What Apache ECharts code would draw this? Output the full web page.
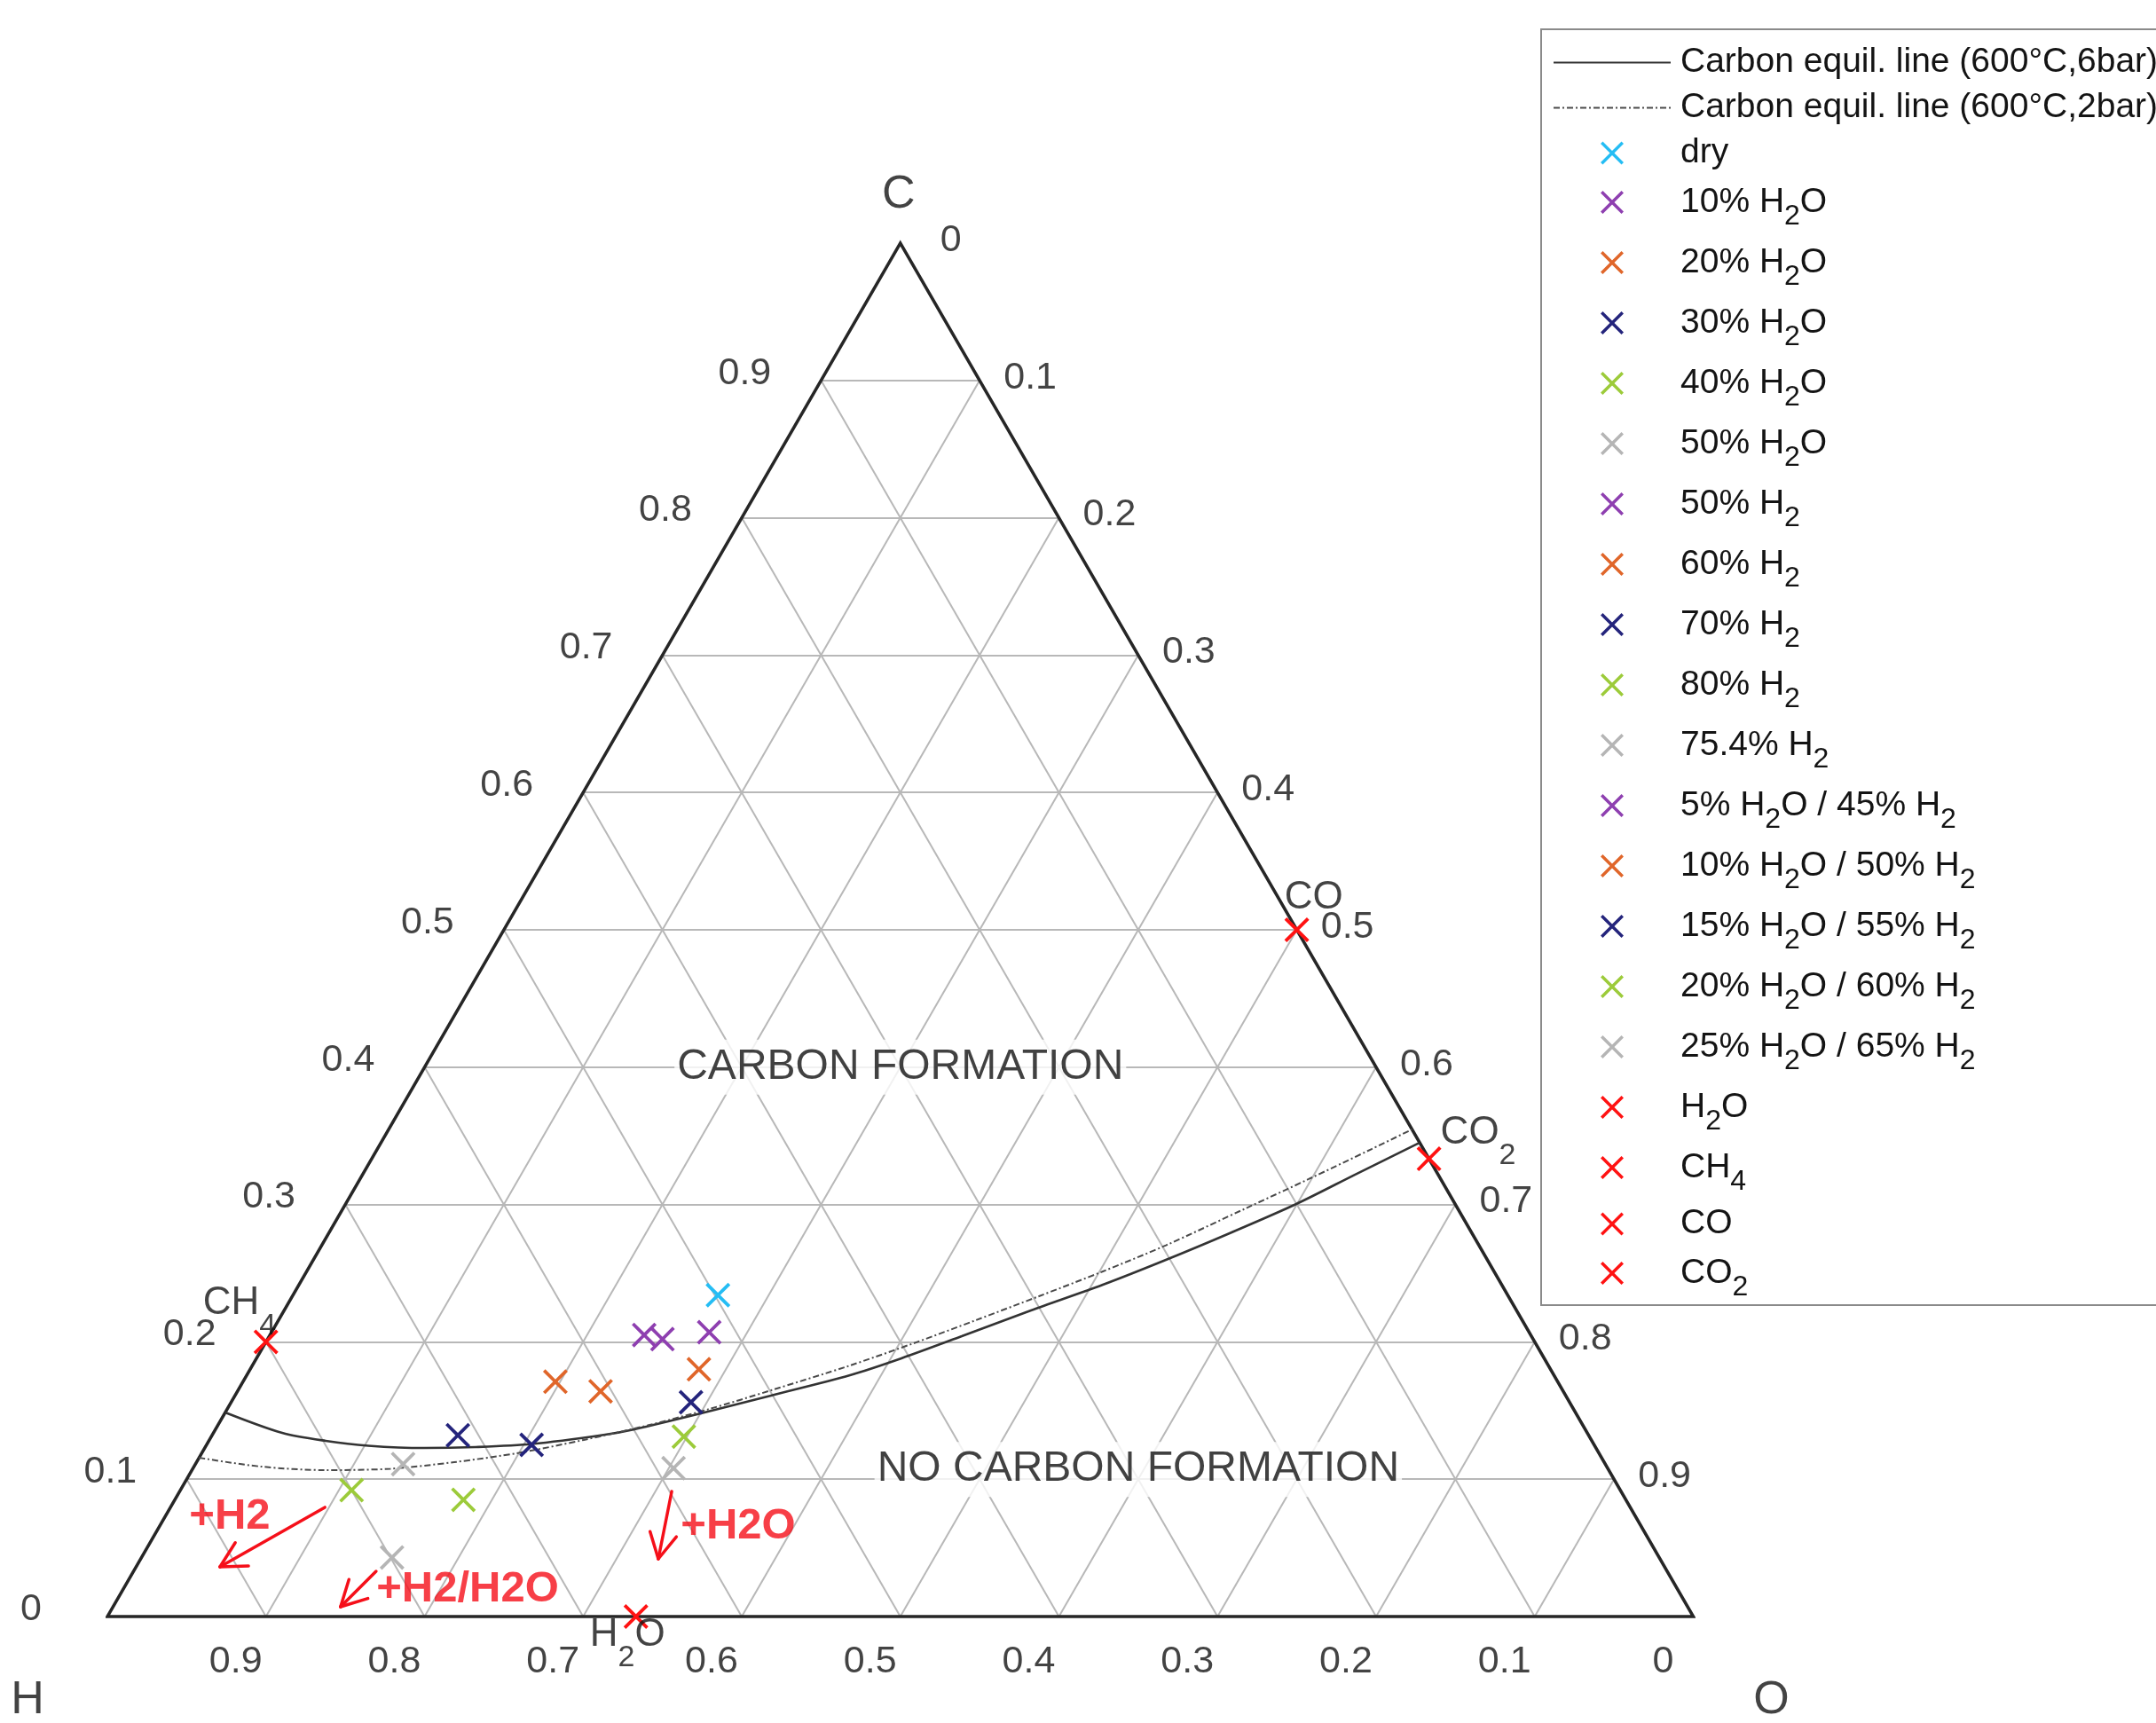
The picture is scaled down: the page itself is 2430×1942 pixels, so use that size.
<!DOCTYPE html>
<html>
<head>
<meta charset="utf-8">
<script src="https://cdn.jsdelivr.net/npm/echarts@6/dist/echarts.min.js"></script>
<style>
html,body{margin:0;padding:0;background:#ffffff;}
#chart{width:2430px;height:1942px;}
</style>
</head>
<body>
<div id="chart"></div>
<script>
// ---------------- DATA (ternary mole fractions: C, O; H = 1 - C - O) ----------------
const tickValues = [0, 0.1, 0.2, 0.3, 0.4, 0.5, 0.6, 0.7, 0.8, 0.9];
const tickLabels = ['0', '0.1', '0.2', '0.3', '0.4', '0.5', '0.6', '0.7', '0.8', '0.9'];
const gridValues = [0.1, 0.2, 0.3, 0.4, 0.5, 0.6, 0.7, 0.8, 0.9];
const cornerNames = ['C', 'H', 'O'];

const seriesNames = ['dry', '10% H2O', '20% H2O', '30% H2O', '40% H2O', '50% H2O',
  '50% H2', '60% H2', '70% H2', '80% H2', '75.4% H2',
  '5% H2O / 45% H2', '10% H2O / 50% H2', '15% H2O / 55% H2', '20% H2O / 60% H2', '25% H2O / 65% H2',
  'H2O', 'CH4', 'CO', 'CO2'];
const seriesC = [0.234, 0.207, 0.180, 0.156, 0.131, 0.108,
  0.205, 0.171, 0.132, 0.092, 0.111,
  0.202, 0.164, 0.125, 0.085, 0.043,
  0, 0.2, 0.5, 0.3333];
const seriesO = [0.268, 0.276, 0.283, 0.290, 0.298, 0.303,
  0.236, 0.197, 0.155, 0.108, 0.131,
  0.249, 0.229, 0.205, 0.182, 0.158,
  0.3333, 0, 0.5, 0.6667];

const equil6barName = 'Carbon equil. line (600°C,6bar)';
const equil6barC = [0.1486, 0.1337, 0.1279, 0.1244, 0.1227, 0.1234, 0.1256, 0.1324, 0.1363, 0.1479,
  0.1609, 0.1757, 0.1880, 0.2041, 0.2229, 0.2416, 0.2597, 0.2791, 0.3004, 0.3223, 0.3450];
const equil6barO = [0, 0.0434, 0.0737, 0.1023, 0.1384, 0.1705, 0.2052, 0.2477, 0.2642, 0.3003,
  0.3380, 0.3804, 0.4067, 0.4367, 0.4709, 0.5069, 0.5376, 0.5681, 0.5995, 0.6265, 0.6550];

const equil2barName = 'Carbon equil. line (600°C,2bar)';
const equil2barC = [0.1156, 0.1092, 0.1066, 0.1076, 0.1124, 0.1192, 0.1286, 0.1392, 0.1512, 0.1647,
  0.1828, 0.1990, 0.2158, 0.2332, 0.2513, 0.2703, 0.2972, 0.3185, 0.3404, 0.3547];
const equil2barO = [0, 0.0422, 0.0843, 0.1247, 0.1625, 0.2000, 0.2361, 0.2711, 0.3043, 0.3361,
  0.3769, 0.4090, 0.4398, 0.4708, 0.5021, 0.5323, 0.5692, 0.5982, 0.6270, 0.6453];

const regionTexts = ['CARBON FORMATION', 'NO CARBON FORMATION'];
const regionC = [0.4, 0.1];
const regionO = [0.3, 0.6];

const annotationTexts = ['+H2', '+H2/H2O', '+H2O'];
const annotationC = [0.0724, 0.0194, 0.0659];
const annotationO = [0.0410, 0.2174, 0.3648];
const arrowFromC = [0.0795, 0.0329, 0.0911];
const arrowFromO = [0.0974, 0.1530, 0.3103];
const arrowToC = [0.0362, 0.0071, 0.0420];
const arrowToO = [0.0529, 0.1435, 0.3264];

// ---------------- STYLE ----------------
const FONT = '"Liberation Sans", Arial, Helvetica, sans-serif';
const TXT = '#141414';
const seriesColors = ['#25bdf4', '#8e3fb0', '#e0662a', '#24247c', '#9ccb3a', '#b5b5b5',
  '#8e3fb0', '#e0662a', '#24247c', '#9ccb3a', '#b5b5b5',
  '#8e3fb0', '#e0662a', '#24247c', '#9ccb3a', '#b5b5b5',
  '#ff1212', '#ff1212', '#ff1212', '#ff1212'];
const XPATH = 'path://M0,0.95L0.95,0L5,4.05L9.05,0L10,0.95L5.95,5L10,9.05L9.05,10L5,5.95L0.95,10L0,9.05L4.05,5Z';
const RED = '#f50f19';

const SQ = Math.sqrt(3) / 2;
function tern(c, o) { return [o + c / 2, c * SQ]; }

// subscript formatting: digit right after a capital letter becomes a subscript
function richName(name, mainKey, subKey, plainKey) {
  if (!/[A-Z]\d/.test(name)) return '{' + plainKey + '|' + name + '}';
  let out = '';
  let buf = '';
  for (let i = 0; i < name.length; i++) {
    const ch = name[i];
    if (/\d/.test(ch) && i > 0 && /[A-Z]/.test(name[i - 1])) {
      if (buf) out += '{' + mainKey + '|' + buf + '}';
      buf = '';
      out += '{' + subKey + '|' + ch + '}';
    } else {
      buf += ch;
    }
  }
  if (buf) out += '{' + mainKey + '|' + buf + '}';
  return out;
}

const chart = echarts.init(document.getElementById('chart'), null, { renderer: 'canvas' });

const series = [];

// grid lines
const gridLineData = [];
gridValues.forEach(v => {
  gridLineData.push({ coords: [tern(v, 0), tern(v, 1 - v)] });
  gridLineData.push({ coords: [tern(0, v), tern(1 - v, v)] });
  gridLineData.push({ coords: [tern(0, 1 - v), tern(1 - v, 0)] });
});
series.push({
  type: 'lines', coordinateSystem: 'cartesian2d', silent: true, z: 1, clip: false,
  data: gridLineData,
  lineStyle: { color: '#b8b8b8', width: 2, opacity: 1 }
});

// triangle frame
series.push({
  type: 'line', silent: true, z: 3, clip: false, symbol: 'none', showSymbol: false,
  data: [tern(0, 0), tern(0, 1), tern(1, 0), tern(0, 0), tern(0, 1)],
  lineStyle: { color: '#262626', width: 3.5, join: 'miter' }
});

// carbon equilibrium lines
series.push({
  type: 'line', name: equil6barName, silent: true, z: 4, clip: false,
  symbol: 'none', showSymbol: false, smooth: 0.3,
  data: equil6barC.map((c, i) => tern(c, equil6barO[i])),
  itemStyle: { color: 'rgba(0,0,0,0)', opacity: 0 },
  lineStyle: { color: '#333333', width: 2.6 }
});
series.push({
  type: 'line', name: equil2barName, silent: true, z: 4, clip: false,
  symbol: 'none', showSymbol: false, smooth: 0.3,
  data: equil2barC.map((c, i) => tern(c, equil2barO[i])),
  itemStyle: { color: 'rgba(0,0,0,0)', opacity: 0 },
  lineStyle: { color: '#4a4a4a', width: 2, type: [7, 3, 2, 3] }
});

// composition markers
seriesNames.forEach((name, i) => {
  series.push({
    type: 'scatter', name: name, silent: true, z: 6, clip: false,
    symbol: XPATH, symbolSize: 28, symbolKeepAspect: true,
    data: [tern(seriesC[i], seriesO[i])],
    itemStyle: { color: seriesColors[i], opacity: 1 }
  });
});

// helper for text-only scatter
function textSeries(items, label, z) {
  return {
    type: 'scatter', silent: true, z: z || 5, clip: false,
    symbol: 'circle', symbolSize: 1,
    itemStyle: { color: 'rgba(0,0,0,0)' },
    data: items,
    label: Object.assign({ show: true, position: 'inside', formatter: '{b}' }, label)
  };
}

const tickFont = { fontFamily: FONT, fontSize: 43, color: TXT, align: 'center', verticalAlign: 'middle' };
// left axis: C fraction
series.push(textSeries(tickValues.map((v, i) => ({ name: tickLabels[i], value: tern(v, 0) })),
  Object.assign({ offset: [-86, -8] }, tickFont)));
// bottom axis: H fraction
series.push(textSeries(tickValues.map((v, i) => ({ name: tickLabels[i], value: tern(0, 1 - v) })),
  Object.assign({ offset: [-34, 51] }, tickFont)));
// right axis: O fraction
series.push(textSeries(tickValues.map((v, i) => ({ name: tickLabels[i], value: tern(1 - v, v) })),
  Object.assign({ offset: [57, -3] }, tickFont)));

// corner labels
const cornerPos = [tern(1, 0), tern(0, 0), tern(0, 1)];
const cornerOffsets = [[-2, -54], [-90, 95], [88, 95]];
series.push(textSeries(cornerNames.map((n, i) => ({
  name: n, value: cornerPos[i], label: { offset: cornerOffsets[i] }
})), { fontFamily: FONT, fontSize: 52, color: TXT, align: 'center', verticalAlign: 'middle' }));

// species labels next to red markers
const speciesLabelOffsets = { 'H2O': [-52, -1], 'CH4': [-71, -66], 'CO': [-14, -58], 'CO2': [13, -51] };
const speciesItems = [];
seriesNames.forEach((n, i) => {
  if (speciesLabelOffsets[n]) {
    speciesItems.push({
      name: n, value: tern(seriesC[i], seriesO[i]),
      label: { offset: speciesLabelOffsets[n], formatter: richName(n, 'm', 'u', 'm') }
    });
  }
});
series.push(textSeries(speciesItems, {
  fontFamily: FONT, fontSize: 44, color: TXT, align: 'left', verticalAlign: 'top',
  rich: {
    m: { fontFamily: FONT, fontSize: 44, height: 44, verticalAlign: 'top', color: TXT },
    u: { fontFamily: FONT, fontSize: 34, height: 24, padding: [36, 0, 0, 0], verticalAlign: 'top', color: TXT }
  }
}, 7));

// region labels (white box hides grid lines)
const regionOffsets = [[0, 0], [0, -11]];
series.push(textSeries(regionTexts.map((t, i) => ({
  name: t, value: tern(regionC[i], regionO[i]), label: { offset: regionOffsets[i] }
})), {
  fontFamily: FONT, fontSize: 48, color: '#111111', align: 'center', verticalAlign: 'middle',
  backgroundColor: '#ffffff', padding: [7, 3, 7, 3]
}, 2));

// red annotation texts
series.push(textSeries(annotationTexts.map((t, i) => ({
  name: t, value: tern(annotationC[i], annotationO[i])
})), {
  fontFamily: FONT, fontSize: 49, fontWeight: 'bold', color: RED, align: 'center', verticalAlign: 'middle'
}, 7));

// red arrows (shaft + open head)
const arrowData = [];
const headLen = 0.018, headAng = 28 * Math.PI / 180;
arrowFromC.forEach((c, i) => {
  const a = tern(c, arrowFromO[i]);
  const b = tern(arrowToC[i], arrowToO[i]);
  arrowData.push({ coords: [a, b] });
  const dx = a[0] - b[0], dy = a[1] - b[1];
  const len = Math.hypot(dx, dy);
  const ux = dx / len, uy = dy / len;
  [headAng, -headAng].forEach(t => {
    const wx = ux * Math.cos(t) - uy * Math.sin(t);
    const wy = ux * Math.sin(t) + uy * Math.cos(t);
    arrowData.push({ coords: [b, [b[0] + wx * headLen, b[1] + wy * headLen]] });
  });
});
series.push({
  type: 'lines', coordinateSystem: 'cartesian2d', silent: true, z: 7, clip: false,
  data: arrowData,
  lineStyle: { color: RED, width: 3.5, opacity: 1, cap: 'round' }
});

const hiddenIcon = { color: 'rgba(0,0,0,0)', borderWidth: 0, borderColor: 'rgba(0,0,0,0)', opacity: 0 };
const legendData = [
  { name: equil6barName, itemStyle: hiddenIcon },
  { name: equil2barName, itemStyle: hiddenIcon }
].concat(seriesNames.map(n => ({ name: n })));

chart.setOption({
  animation: false,
  backgroundColor: '#ffffff',
  grid: { left: 121, top: 274, width: 1787.5, height: 1548, containLabel: false },
  xAxis: { type: 'value', min: 0, max: 1, show: false },
  yAxis: { type: 'value', min: 0, max: SQ, show: false },
  legend: {
    data: legendData,
    orient: 'vertical',
    left: 1737, top: 33,
    padding: [18, 20, 4, 13],
    itemGap: 12,
    itemWidth: 132, itemHeight: 26,
    backgroundColor: '#ffffff',
    borderColor: '#8a8a8a', borderWidth: 2, borderRadius: 0,
    selectedMode: false,
    formatter: name => richName(name, 'n', 's', 'p'),
    textStyle: {
      fontFamily: FONT, fontSize: 39, color: TXT, padding: [0, 0, 0, 6],
      rich: {
        p: { fontFamily: FONT, fontSize: 39, verticalAlign: 'middle', color: TXT },
        n: { fontFamily: FONT, fontSize: 39, lineHeight: 48, verticalAlign: 'middle', color: TXT },
        s: { fontFamily: FONT, fontSize: 32, height: 16, lineHeight: 48, padding: [32, 0, 0, 0],
             verticalAlign: 'top', backgroundColor: 'rgba(255,255,255,0)', color: TXT }
      }
    }
  },
  series: series
});
</script>
</body>
</html>
